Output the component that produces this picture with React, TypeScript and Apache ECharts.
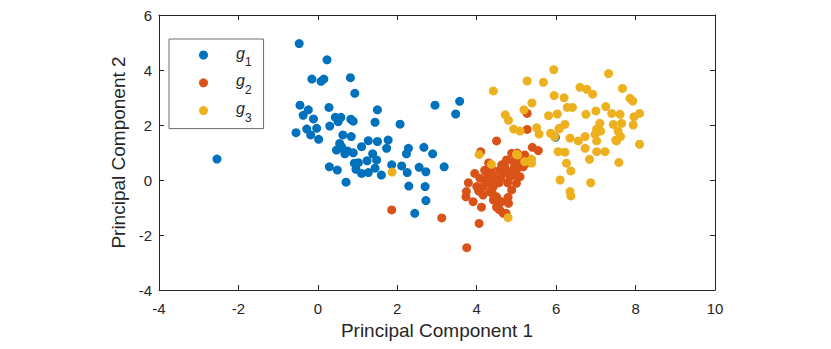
import React, { useEffect, useRef } from "react";
import * as echarts from "echarts";

const groupNames = ["g1", "g2", "g3"];
const groupSubs = ["1", "2", "3"];
const groupColors = ["#0072BD", "#D95319", "#EDB120"];

const xTicks = { min: -4, max: 10, interval: 2 };
const yTicks = { min: -4, max: 6, interval: 2 };

const xAxisTitle = "Principal Component 1";
const yAxisTitle = "Principal Component 2";

const g1Points: [number, number][] = [
  [-2.54, 0.76], [-0.47, 4.96], [0.23, 4.37], [-0.15, 3.67], [0.08, 3.59], [0.15, 3.67],
  [0.82, 3.72], [0.93, 3.15], [-0.45, 2.72], [-0.24, 2.55], [-0.37, 2.35], [-0.11, 2.22],
  [0.28, 2.64], [0.44, 2.28], [0.58, 2.28], [0.51, 2.12], [0.30, 1.96], [0.83, 2.21],
  [0.89, 2.14], [1.50, 2.55], [1.44, 2.10], [2.07, 2.03], [2.95, 2.72], [3.57, 2.86],
  [3.47, 2.40], [-0.55, 1.72], [-0.28, 1.85], [-0.03, 1.88], [-0.18, 1.64], [0.02, 1.48],
  [0.63, 1.64], [0.84, 1.58], [0.55, 1.33], [0.47, 1.09], [0.68, 0.95], [0.89, 0.99],
  [1.10, 1.21], [1.27, 1.43], [1.50, 1.40], [1.77, 1.45], [1.73, 1.15], [2.28, 1.15],
  [2.23, 0.95], [2.67, 1.19], [2.89, 0.95], [1.38, 0.95], [1.48, 0.73], [1.24, 0.70],
  [1.02, 0.63], [0.96, 0.39], [1.10, 0.24], [1.27, 0.27], [1.44, 0.43], [0.29, 0.48],
  [0.49, 0.36], [0.71, -0.08], [1.60, 0.18], [1.86, 0.55], [2.11, 0.51], [2.25, 0.27],
  [2.55, 0.46], [2.72, 0.30], [3.18, 0.48], [2.29, -0.22], [2.70, -0.24], [2.72, -0.75],
  [2.44, -1.21], [0.60, 1.20], [0.75, 1.05], [0.92, 0.61], [5.98, 1.55],
];

const g2Points: [number, number][] = [
  [4.50, 1.42], [4.10, 1.03], [5.27, 1.84], [5.27, 2.42], [5.40, 1.19], [5.55, 1.07],
  [5.21, 0.91], [3.75, -2.46], [4.06, -1.58], [3.73, -0.61], [3.79, -0.10], [3.95, 0.24],
  [3.91, -0.79], [4.12, -0.99], [4.50, -0.99], [4.67, -1.21], [4.50, -0.61], [4.79, -0.63],
  [4.88, -0.36], [4.16, -0.24], [4.00, -0.24], [4.25, 0.00], [4.42, 0.18], [4.58, 0.36],
  [4.71, 0.48], [4.92, 0.67], [5.00, 0.36], [5.09, 0.12], [5.00, -0.12], [4.78, -0.10],
  [4.56, -0.10], [4.42, -0.24], [4.33, -0.42], [4.16, -0.55], [4.67, 0.24], [4.84, 0.12],
  [5.17, 0.48], [5.26, 0.61], [4.33, 0.18], [4.08, 0.06], [4.50, 0.00], [4.88, 0.97],
  [5.05, 0.79], [4.75, 0.73], [4.63, 0.55], [4.37, 0.43], [4.23, 0.30], [4.63, -0.79],
  [4.42, -0.73], [1.86, -1.09], [3.12, -1.38], [4.30, -0.10], [4.45, 0.10], [4.60, 0.05],
  [4.85, 0.30], [4.95, 0.45], [5.10, 0.55], [4.40, -0.50], [4.20, 0.35], [4.05, -0.40],
  [4.80, -0.85], [4.55, -1.05], [3.74, -0.42], [4.58, -1.09], [4.74, -1.21], [4.50, -0.73],
  [5.12, 0.78], [5.02, 0.98], [4.98, 0.18], [4.30, 0.62],
];

const g3Points: [number, number][] = [
  [5.94, 4.01], [7.32, 3.87], [5.27, 3.60], [5.68, 3.55], [4.42, 3.24], [6.60, 3.37],
  [6.77, 3.30], [6.92, 3.12], [7.67, 3.33], [5.95, 3.07], [6.20, 2.99], [5.39, 2.80],
  [7.86, 2.97], [7.93, 2.87], [5.19, 2.55], [6.28, 2.64], [6.41, 2.64], [7.25, 2.67],
  [6.75, 2.39], [7.00, 2.51], [5.81, 2.34], [6.03, 2.40], [4.72, 2.37], [4.80, 2.17],
  [7.40, 2.42], [7.61, 2.39], [8.10, 2.42], [7.96, 2.30], [7.94, 2.00], [7.44, 2.02],
  [7.65, 2.06], [7.10, 2.06], [6.22, 2.02], [6.08, 1.88], [5.51, 1.90], [5.57, 1.67],
  [4.93, 1.85], [5.09, 1.78], [5.86, 1.70], [6.35, 1.52], [6.56, 1.42], [6.73, 1.58],
  [6.98, 1.66], [7.02, 1.85], [7.12, 1.78], [7.56, 1.78], [7.62, 1.58], [7.52, 1.42],
  [7.02, 1.42], [8.10, 1.30], [6.73, 1.15], [6.05, 1.03], [6.22, 1.01], [5.00, 0.93],
  [4.06, 0.93], [4.37, 0.57], [5.03, 0.91], [5.21, 0.67], [5.38, 0.75], [5.38, 0.61],
  [6.26, 0.61], [6.37, 0.33], [6.10, 0.00], [6.87, -0.10], [6.35, -0.42], [6.37, -0.58],
  [6.84, 0.75], [7.02, 1.03], [7.23, 1.03], [7.58, 0.64], [7.50, 1.45], [4.79, -1.37],
  [5.96, 1.57], [1.87, 0.29], [6.07, 1.85],
];

const groupData = [g1Points, g2Points, g3Points];

const FONT = "'Liberation Sans', Arial, Helvetica, sans-serif";
const AXIS_COLOR = "#262626";

export default function App() {
  const ref = useRef<HTMLDivElement>(null);

  useEffect(() => {
    document.body.style.margin = "0";
    if (!ref.current) return;
    const chart = echarts.init(ref.current, undefined, { renderer: "svg" });

    const axisCommon = {
      type: "value" as const,
      axisLine: { show: true, onZero: false, lineStyle: { color: AXIS_COLOR, width: 1 } },
      axisTick: { show: true, inside: true, length: 5, lineStyle: { color: AXIS_COLOR, width: 1 } },
      splitLine: { show: false },
    };

    chart.setOption({
      animation: false,
      backgroundColor: "#ffffff",
      grid: { left: 159, right: 116, top: 15, bottom: 59, containLabel: false },
      xAxis: [
        {
          ...axisCommon,
          position: "bottom",
          min: xTicks.min,
          max: xTicks.max,
          interval: xTicks.interval,
          axisLabel: { color: AXIS_COLOR, fontSize: 15, fontFamily: FONT, margin: 11 },
          name: xAxisTitle,
          nameLocation: "middle",
          nameGap: 30,
          nameTextStyle: { color: AXIS_COLOR, fontSize: 19, fontFamily: FONT },
        },
        {
          ...axisCommon,
          position: "top",
          min: xTicks.min,
          max: xTicks.max,
          interval: xTicks.interval,
          axisLabel: { show: false },
        },
      ],
      yAxis: [
        {
          ...axisCommon,
          position: "left",
          min: yTicks.min,
          max: yTicks.max,
          interval: yTicks.interval,
          axisLabel: { color: AXIS_COLOR, fontSize: 15, fontFamily: FONT, margin: 7 },
          name: yAxisTitle,
          nameLocation: "middle",
          nameGap: 30,
          nameRotate: 90,
          nameTextStyle: { color: AXIS_COLOR, fontSize: 19, fontFamily: FONT },
        },
        {
          ...axisCommon,
          position: "right",
          min: yTicks.min,
          max: yTicks.max,
          interval: yTicks.interval,
          axisLabel: { show: false },
        },
      ],
      legend: {
        show: true,
        orient: "vertical",
        left: 169,
        top: 39,
        padding: [6, 12, 5, 30],
        itemGap: 4.8,
        itemWidth: 9,
        itemHeight: 9,
        icon: "circle",
        borderColor: "#6e6e6e",
        borderWidth: 1,
        backgroundColor: "#ffffff",
        data: groupNames,
        formatter: (name: string) => {
          const i = groupNames.indexOf(name);
          return "{sp|}{g|g}{s|" + groupSubs[i] + "}";
        },
        textStyle: {
          color: AXIS_COLOR,
          fontFamily: FONT,
          rich: {
            sp: { width: 23, lineHeight: 20, verticalAlign: "top" },
            g: { fontSize: 16, fontStyle: "italic", lineHeight: 20, verticalAlign: "top", fontFamily: FONT, color: AXIS_COLOR },
            s: { fontSize: 12, lineHeight: 12, padding: [11, 0, 0, 0], verticalAlign: "top", fontFamily: FONT, color: AXIS_COLOR },
          },
        },
      },
      series: groupNames.map((name, i) => ({
        name,
        type: "scatter",
        xAxisIndex: 0,
        yAxisIndex: 0,
        symbol: "circle",
        symbolSize: 9,
        itemStyle: { color: groupColors[i], opacity: 1 },
        emphasis: { disabled: true },
        data: groupData[i],
        z: 2 + i,
      })),
    });

    return () => chart.dispose();
  }, []);

  return (
    <div
      ref={ref}
      style={{ position: "absolute", left: 0, top: 0, width: 831, height: 349 }}
    />
  );
}
